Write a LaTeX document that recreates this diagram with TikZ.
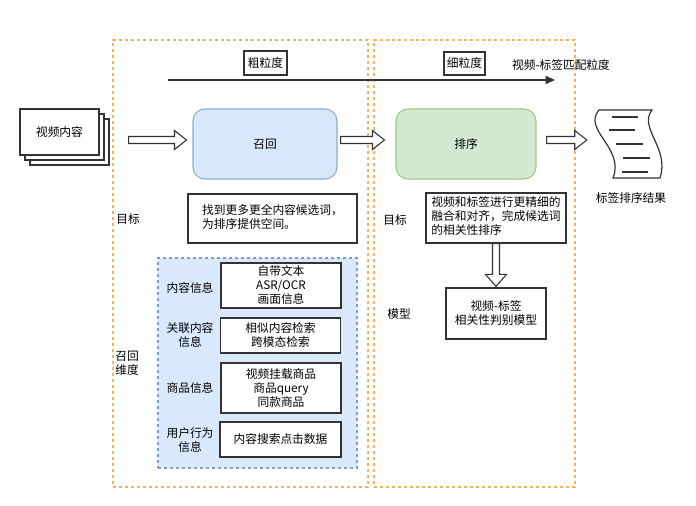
\documentclass[tikz,border=0pt]{standalone}
\usepackage{fontspec}
\setmainfont{Noto Sans CJK SC}
\usetikzlibrary{arrows.meta,calc}
\definecolor{orangeb}{HTML}{F0B45A}
\definecolor{bluef}{HTML}{DAE8FC}
\definecolor{blueb}{HTML}{8FAADC}
\definecolor{bluedash}{HTML}{7F9CC8}
\definecolor{greenf}{HTML}{D5E8D4}
\definecolor{greenb}{HTML}{9CC78A}
\definecolor{linegray}{HTML}{333333}
\newcommand\hblockarrow[2]{%
  \draw[barrow] ($(#1)+(0,-3.5)$) -- ($(#2)+(-12,-3.5)$) -- ($(#2)+(-12,-9.5)$) -- (#2)
    -- ($(#2)+(-12,9.5)$) -- ($(#2)+(-12,3.5)$) -- ($(#1)+(0,3.5)$) -- cycle;}
\newcommand\vblockarrow[2]{%
  \draw[barrow] ($(#1)+(-3.5,0)$) -- ($(#2)+(-3.5,-12)$) -- ($(#2)+(-10.5,-12)$) -- (#2)
    -- ($(#2)+(10.5,-12)$) -- ($(#2)+(3.5,-12)$) -- ($(#1)+(3.5,0)$) -- cycle;}
\begin{document}
\begin{tikzpicture}[x=0.75pt,y=-0.75pt,
  font=\fontsize{8.8}{10.5}\selectfont,
  wh/.style 2 args={minimum width=#1*0.75pt, minimum height=#2*0.75pt, inner sep=0pt},
  plain/.style={draw=linegray, line width=0.9pt, fill=white, align=center},
  group/.style={draw=orangeb, dashed, dash pattern=on 2.5pt off 2pt, line width=0.8pt},
  bluegroup/.style={draw=bluedash, fill=bluef, dash pattern=on 2.5pt off 2pt, line width=0.8pt},
  recallbox/.style={draw=blueb, fill=bluef, rounded corners=9pt, line width=0.8pt},
  rankbox/.style={draw=greenb, fill=greenf, rounded corners=9pt, line width=0.8pt},
  barrow/.style={draw=linegray, line width=0.8pt, fill=white, line join=miter},
  lbl/.style={inner sep=0pt, align=center},
  lbll/.style={inner sep=0pt, align=left, anchor=west}]
\useasboundingbox[fill=white] (0,0) rectangle (696,506);

% groups
\node[group, wh={255}{447}] (g1) at (240.5,263.5) {};
\node[group, wh={201}{447}] (g2) at (474.5,263.5) {};

% granularity axis
\node[plain, wh={43}{24}] (coarse) at (265.5,63) {粗粒度};
\node[plain, wh={41}{23}] (fine) at (464.5,63.5) {细粒度};
\coordinate (axs) at (168,80);
\coordinate (axe) at (555,80);
\draw[linegray, line width=0.9pt, -{Triangle[length=7pt,width=6pt]}] (axs) -- (axe);
\node[lbl] (axlbl) at (561,65) {视频-标签匹配粒度};

% video content stack
\draw[plain] (30,119) rectangle (109,165);
\draw[plain] (25,114) rectangle (104,160);
\node[plain, wh={79}{46}] (doc) at (59.5,132) {视频内容};

% main boxes
\node[recallbox, wh={144}{70}] (recall) at (265,144) {召回};
\node[rankbox, wh={140}{70}] (rank) at (466,144) {排序};

% result tape
\node[wh={62}{70}] (tape) at (628,144) {};
\draw[linegray, line width=0.9pt, fill=white]
  (599,110) -- (652,110) .. controls (638,128) and (670,148) .. (660,178)
  -- (613,178) .. controls (625,148) and (582,130) .. cycle;
\draw[linegray, line width=0.8pt]
  (612,117) -- (638,117)
  (609,130) -- (635,130)
  (616,144) -- (643,144)
  (623,158) -- (650,158)
  (622,172) -- (648,172);
\node[lbl] (reslbl) at (631,198) {标签排序结果};

% block arrows
\coordinate (a1s) at ($(doc.east)+(29,8)$);
\coordinate (a1e) at ($(recall.west)+(-6,-4)$);
\hblockarrow{a1s}{a1e}
\coordinate (a2s) at ($(recall.east)+(3,-4)$);
\coordinate (a2e) at ($(rank.west)+(-11,-4)$);
\hblockarrow{a2s}{a2e}
\coordinate (a3s) at ($(rank.east)+(10,-4)$);
\coordinate (a3e) at ($(tape.west)+(-10,-4)$);
\hblockarrow{a3s}{a3e}

% goals
\node[lbll] (goal1) at (116,219) {目标};
\node[plain, wh={169}{49}] (g1text) at (272.5,218.5)
  {\begin{tabular}{@{}l@{}}找到更多更全内容候选词，\\为排序提供空间。\end{tabular}};
\node[lbll] (goal2) at (383,220) {目标};
\node[plain, wh={140}{50}] (g2text) at (496,218)
  {\begin{tabular}{@{}l@{}}视频和标签进行更精细的\\融合和对齐，完成候选词\\的相关性排序\end{tabular}};

% model
\node[lbll] (modellbl) at (387,314) {模型};
\node[plain, wh={100}{51}] (model) at (496,313.5) {视频-标签\\相关性判别模型};
\coordinate (a4s) at (g2text.south);
\coordinate (a4e) at ($(model.north)+(0,-1)$);
\vblockarrow{a4s}{a4e}

% recall dimensions
\node[lbll] (dimlbl) at (115,363) {召回\\维度};
\node[bluegroup, wh={199}{210}] (dims) at (257.5,363) {};
\node[plain, wh={120}{45}] (dA) at (281,285.5) {自带文本\\ASR/OCR\\画面信息};
\node[plain, wh={120}{35}] (dB) at (280.5,335.5) {相似内容检索\\跨模态检索};
\node[plain, wh={120}{50}] (dC) at (281,388) {视频挂载商品\\商品query\\同款商品};
\node[plain, wh={121}{35}] (dD) at (280.5,439.5) {内容搜索点击数据};
\node[lbl] (lA) at (190,288) {内容信息};
\node[lbl] (lB) at (190,335) {关联内容\\信息};
\node[lbl] (lC) at (190,388) {商品信息};
\node[lbl] (lD) at (190,440) {用户行为\\信息};
\end{tikzpicture}
\end{document}
